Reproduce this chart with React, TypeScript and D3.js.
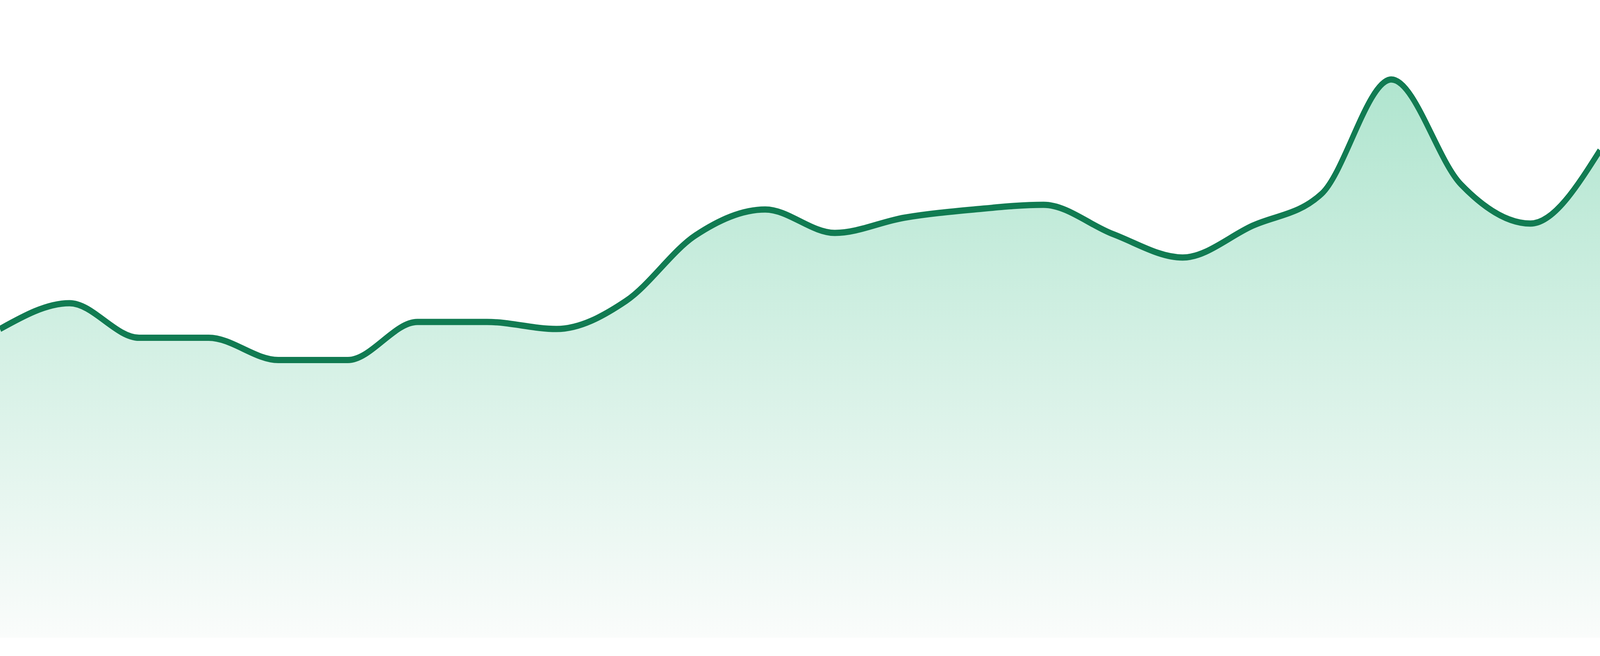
import { useEffect, useRef } from "react";
import * as d3 from "d3";

// one sample per period
const periods = [
  "P01", "P02", "P03", "P04", "P05", "P06", "P07", "P08",
  "P09", "P10", "P11", "P12", "P13", "P14", "P15", "P16",
  "P17", "P18", "P19", "P20", "P21", "P22", "P23", "P24",
];

const values = [
  52.7, 57.1, 51.2, 51.2, 47.4, 47.4, 53.9, 53.9,
  52.7, 57.5, 68.7, 73.1, 69.1, 71.7, 73.1, 73.9,
  68.9, 64.9, 70.3, 75.8, 95.3, 77.4, 70.7, 83.2,
];

const yDomain = [0, 100];

// drawing space, stretched over the whole window
const W = 4800;
const H = 1680;

export default function App() {
  const svgRef = useRef<SVGSVGElement>(null);

  useEffect(() => {
    if (!svgRef.current) return;

    const svg = d3.select(svgRef.current);
    svg.selectAll("*").remove();

    const baseline = 1633;

    const data = periods.map((p, i) => ({ period: p, value: values[i] }));

    const xScale = d3
      .scalePoint<string>()
      .domain(periods)
      .range([0, W]);

    const yScale = d3
      .scaleLinear()
      .domain(yDomain)
      .range([baseline, 133]);

    const topY = yScale(d3.max(values) as number);

    // Fill gradient, fades out towards the baseline
    const defs = svg.append("defs");
    const grad = defs
      .append("linearGradient")
      .attr("id", "areaFade")
      .attr("gradientUnits", "userSpaceOnUse")
      .attr("x1", 0)
      .attr("x2", 0)
      .attr("y1", topY)
      .attr("y2", baseline);
    grad.append("stop").attr("offset", "0%").attr("stop-color", "#b0e5cf");
    grad.append("stop").attr("offset", "100%").attr("stop-color", "#fafcfb");

    const area = d3
      .area<{ period: string; value: number }>()
      .x(d => xScale(d.period) as number)
      .y0(yScale(0))
      .y1(d => yScale(d.value))
      .curve(d3.curveMonotoneX);

    const line = d3
      .line<{ period: string; value: number }>()
      .x(d => xScale(d.period) as number)
      .y(d => yScale(d.value))
      .curve(d3.curveMonotoneX);

    svg
      .append("path")
      .datum(data)
      .attr("fill", "url(#areaFade)")
      .attr("d", area);

    svg
      .append("path")
      .datum(data)
      .attr("fill", "none")
      .attr("stroke", "#117b52")
      .attr("stroke-width", 16)
      .attr("stroke-linejoin", "round")
      .attr("d", line);
  }, []);

  return (
    <div
      style={{
        position: "fixed",
        left: 0,
        top: 0,
        width: "100vw",
        height: "100vh",
        background: "#ffffff",
        overflow: "hidden",
      }}
    >
      <svg
        ref={svgRef}
        width="100%"
        height="100%"
        viewBox={`0 0 ${W} ${H}`}
        preserveAspectRatio="none"
        style={{ display: "block" }}
      />
    </div>
  );
}
